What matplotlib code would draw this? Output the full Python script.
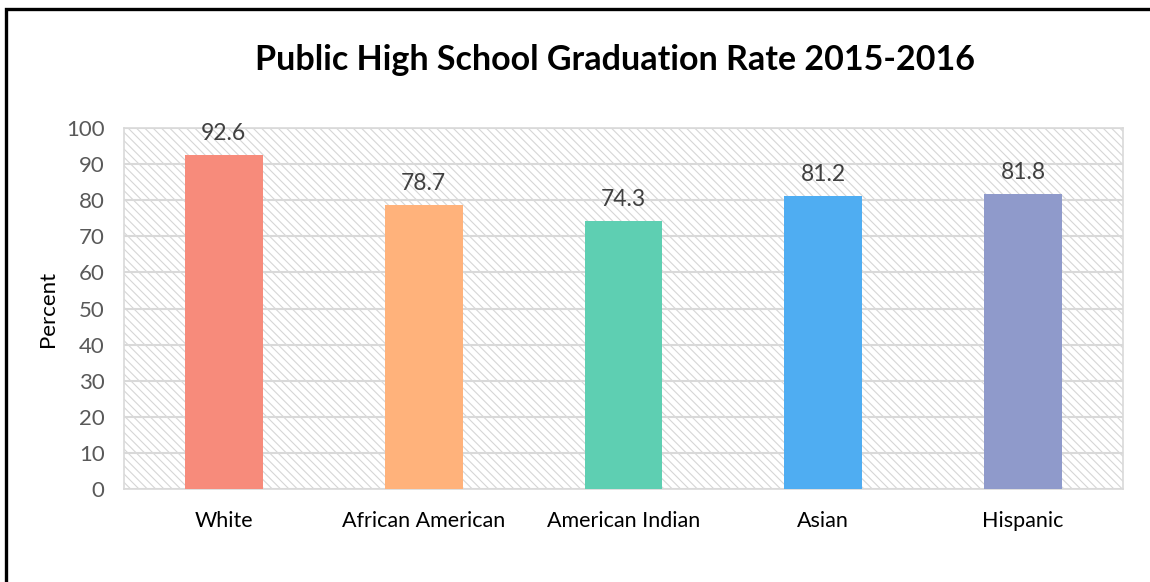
import matplotlib.pyplot as plt
from matplotlib.patches import Rectangle

# data
groups = ['White', 'African American', 'American Indian', 'Asian', 'Hispanic']
rates = [92.6, 78.7, 74.3, 81.2, 81.8]
colors = ['#F78B7B', '#FFB27B', '#5ECFB2', '#4FADF2', '#8F9ACB']

plt.rcParams['font.family'] = ['Lato', 'DejaVu Sans']
plt.rcParams['hatch.color'] = '#d6d6d6'
plt.rcParams['hatch.linewidth'] = 0.8

fig = plt.figure(figsize=(11.5, 5.82), dpi=100)
ax = fig.add_axes([0.1078, 0.1598, 0.8687, 0.6202])

# hatched plot-area background
ax.add_patch(Rectangle((0, 0), 1, 1, transform=ax.transAxes, facecolor='white',
                       edgecolor='#d6d6d6', hatch='\\\\\\\\', lw=0, zorder=0))

x = range(len(groups))
bars = ax.bar(x, rates, width=0.39, color=colors, zorder=3)
for b, v in zip(bars, rates):
    ax.text(b.get_x() + b.get_width() / 2, v + 3.0, f'{v}', ha='center', va='bottom',
            fontsize=16.5, color='#404040', zorder=4)

ax.set_xlim(-0.5, 4.5)
ax.set_ylim(0, 100)
ax.set_yticks(range(0, 101, 10))
ax.set_xticks(list(x))
ax.set_xticklabels(groups, fontsize=15.5, color='black')
ax.tick_params(axis='y', labelsize=16, labelcolor='#595959', length=0, pad=14)
ax.tick_params(axis='x', length=0, pad=16)
ax.grid(axis='y', color='#d9d9d9', lw=1.5, zorder=1)
ax.set_axisbelow(True)
for s in ax.spines.values():
    s.set_color('#d9d9d9')
    s.set_linewidth(1.2)

ax.set_ylabel('Percent', fontsize=16, labelpad=6)
fig.text(0.535, 0.897, 'Public High School Graduation Rate 2015-2016', ha='center',
         va='center', fontsize=24.5, fontweight='bold')

# outer frame (right/bottom run off the image)
fig.add_artist(Rectangle((6 / 1150, -0.1), 1.2, (582 - 9) / 582 + 0.1,
                         transform=fig.transFigure, fill=False, edgecolor='black', lw=2.4))

fig.savefig('out.png', dpi=100)
